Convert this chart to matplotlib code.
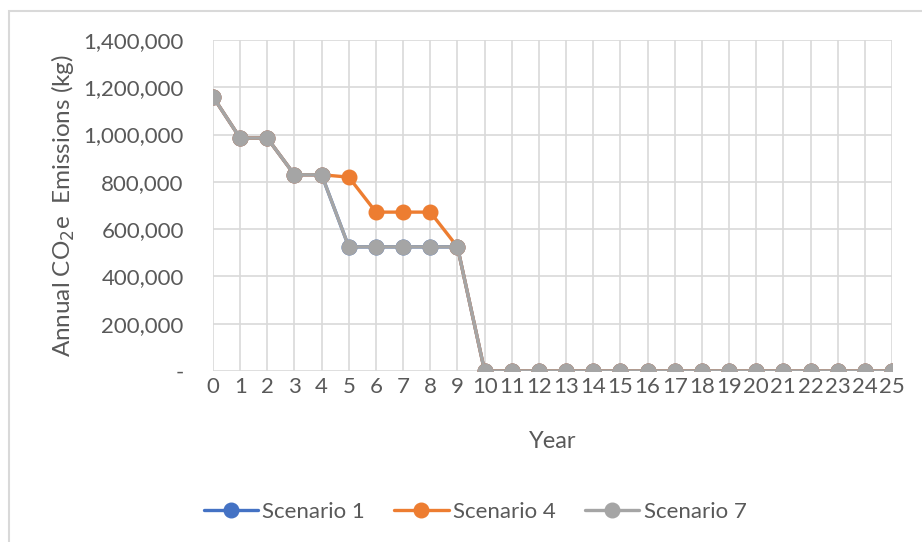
import matplotlib
matplotlib.use("Agg")
import matplotlib.pyplot as plt
from matplotlib.patches import Rectangle
from matplotlib.ticker import FuncFormatter, MultipleLocator

plt.rcParams['font.family'] = ['Lato', 'DejaVu Sans']

years = list(range(26))
scenario_1 = [1160000, 985000, 985000, 830000, 830000] + [525000] * 5 + [0] * 16
scenario_4 = [1160000, 985000, 985000, 830000, 830000, 820000, 672000, 672000, 672000, 525000] + [0] * 16
scenario_7 = [1160000, 985000, 985000, 830000, 830000] + [525000] * 5 + [0] * 16

series = [
    ("Scenario 1", scenario_1, "#4472C4"),
    ("Scenario 4", scenario_4, "#ED7D31"),
    ("Scenario 7", scenario_7, "#A5A5A5"),
]

text_color = "#595959"
grid_color = "#d9d9d9"

fig = plt.figure(figsize=(9.22, 5.42), dpi=100)
ax = fig.add_axes([213 / 922, 1 - 371 / 542, (892 - 213) / 922, (371 - 40) / 542])

# chart area frame (runs off the right and bottom edges)
fig.patches.append(Rectangle((9 / 922, -0.1), 1.2, 1.1 - 11 / 542,
                             transform=fig.transFigure, fill=False,
                             edgecolor=grid_color, linewidth=1.5))

for name, vals, color in series:
    ax.plot(years, vals, color=color, linewidth=2.4, marker="o",
            markersize=10.5, label=name, solid_capstyle="round")

ax.set_xlim(0, 25)
ax.set_ylim(0, 1400000)
ax.xaxis.set_major_locator(MultipleLocator(1))
ax.yaxis.set_major_locator(MultipleLocator(200000))
ax.yaxis.set_major_formatter(FuncFormatter(lambda v, p: "-" if v == 0 else f"{v:,.0f}"))

ax.grid(True, color=grid_color, linewidth=1.2)
ax.set_axisbelow(True)
for s in ax.spines.values():
    s.set_visible(False)
ax.tick_params(length=0, labelsize=16, colors=text_color)
ax.tick_params(axis="y", pad=21)
ax.tick_params(axis="x", pad=4)

ax.set_ylabel("Annual CO$_2$e  Emissions (kg)", fontsize=17.5, color=text_color)
ax.set_xlabel("Year", fontsize=17, color=text_color)
ax.yaxis.set_label_coords(-0.200, 0.5)
ax.xaxis.set_label_coords(0.5, -0.18)

ax.legend(loc="center", bbox_to_anchor=(475 / 922, 1 - 512 / 542),
          bbox_transform=fig.transFigure, ncol=3, frameon=False,
          fontsize=16, labelcolor=text_color, handlelength=2.45,
          handletextpad=0.2, columnspacing=1.3)

fig.savefig("out.png", dpi=100)
